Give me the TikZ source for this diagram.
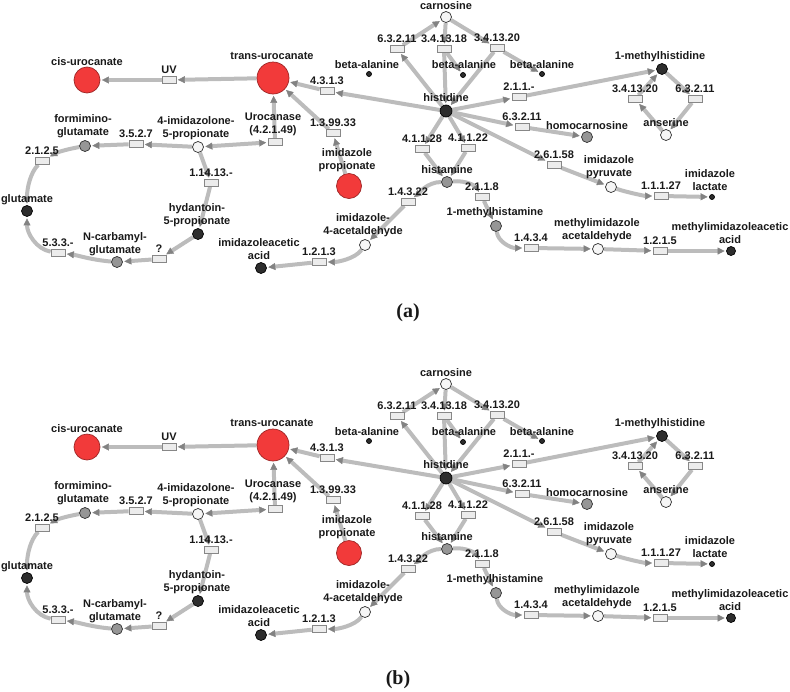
\documentclass[tikz,border=0pt]{standalone}
\usepackage{fontspec}
\setmainfont{Liberation Sans}
\newfontfamily\panelfont{Liberation Serif}
\usetikzlibrary{arrows.meta}
\pgfdeclarelayer{edges}
\pgfsetlayers{edges,main}

\begin{document}
\begin{tikzpicture}[x=1pt,y=-1pt]

  % Define the colours of the pathway map
  \definecolor{metred}{RGB}{242,58,58}
  \definecolor{metdark}{RGB}{45,45,45}
  \definecolor{metgray}{RGB}{150,150,150}
  \definecolor{metwhite}{RGB}{246,246,246}
  \definecolor{boxfill}{RGB}{236,236,236}
  \definecolor{boxline}{RGB}{135,135,135}
  \definecolor{edgegray}{RGB}{188,188,188}
  \definecolor{tipgray}{RGB}{130,130,130}
  \definecolor{txt}{RGB}{25,25,25}

  \tikzset{
    lbl/.style={font=\fontsize{11}{13}\selectfont\bfseries, text=txt, align=center, inner sep=0pt},
    met/.style={circle, inner sep=0pt, line width=0.7pt},
    bigred/.style={met, fill=metred, draw=metred!65!black, minimum size=#1},
    darkmet/.style={met, fill=metdark, draw=black, minimum size=11pt},
    graymet/.style={met, fill=metgray, draw=metdark, minimum size=11pt},
    whitemet/.style={met, fill=metwhite, draw=metdark, minimum size=11pt},
    dotmet/.style={met, fill=metdark, draw=black, minimum size=5pt},
    rxnbox/.style={draw=boxline, fill=boxfill, line width=0.7pt, minimum width=14pt, minimum height=7pt, inner sep=0pt},
    edge/.style={draw=edgegray, line width=4pt},
    >={Triangle[length=7pt, width=7pt, line width=0.4pt, color=tipgray]},
    flow/.style={edge, ->, shorten >=1.5pt},
  }

  \useasboundingbox (0,0) rectangle (790,691);

  % Same map twice, panel (b) below panel (a)
  \foreach \panel/\dy/\lx in {a/0/408, b/367/398} {
    \begin{scope}[shift={(0,\dy)}, name prefix=\panel-]

      % metabolites
      \node[bigred=26pt] (cis) at (87,80) {};
      \node[bigred=32pt] (trans) at (273,78) {};
      \node[bigred=25pt] (improp) at (349,186) {};
      \node[whitemet] (imidazolone) at (198,147) {};
      \node[graymet] (formimino) at (85,146) {};
      \node[darkmet] (glutamate) at (27,211) {};
      \node[graymet] (ncarb) at (117,262) {};
      \node[darkmet] (hydantoin) at (198,234) {};
      \node[darkmet] (imacetic) at (261,268) {};
      \node[whitemet] (imacetald) at (365,245) {};
      \node[whitemet] (carnosine) at (446,17) {};
      \node[dotmet] (bala1) at (369,74) {};
      \node[dotmet] (bala2) at (463,75) {};
      \node[dotmet] (bala3) at (542,74) {};
      \node[darkmet, minimum size=12pt] (histidine) at (446,111) {};
      \node[darkmet] (mhistidine) at (662,69) {};
      \node[whitemet] (anserine) at (666,135) {};
      \node[graymet] (homocarn) at (587,137) {};
      \node[graymet] (histamine) at (447,182) {};
      \node[whitemet] (impyr) at (611,187) {};
      \node[dotmet] (imlact) at (712,197) {};
      \node[graymet] (mhistamine) at (496,226) {};
      \node[whitemet] (meacetald) at (598,249) {};
      \node[darkmet, minimum size=9pt] (meacetic) at (731,251) {};

      % metabolite names
      \node[lbl] (cis-l) at (87,62) {cis-urocanate};
      \node[lbl] (trans-l) at (272,56) {trans-urocanate};
      \node[lbl] (improp-l) at (347,160) {imidazole\\propionate};
      \node[lbl] (imidazolone-l) at (196,128) {4-imidazolone-\\5-propionate};
      \node[lbl] (formimino-l) at (83,126) {formimino-\\glutamate};
      \node[lbl] (glutamate-l) at (27,200) {glutamate};
      \node[lbl] (ncarb-l) at (115,244) {N-carbamyl-\\glutamate};
      \node[lbl] (hydantoin-l) at (197,215) {hydantoin-\\5-propionate};
      \node[lbl] (imacetic-l) at (259,249) {imidazoleacetic\\acid};
      \node[lbl] (imacetald-l) at (363,225) {imidazole-\\4-acetaldehyde};
      \node[lbl] (carnosine-l) at (446,6) {carnosine};
      \node[lbl] (bala1-l) at (367,65) {beta-alanine};
      \node[lbl] (bala2-l) at (464,65) {beta-alanine};
      \node[lbl] (bala3-l) at (542,65) {beta-alanine};
      \node[lbl] (histidine-l) at (446,98) {histidine};
      \node[lbl] (mhistidine-l) at (660,57) {1-methylhistidine};
      \node[lbl] (anserine-l) at (666,123) {anserine};
      \node[lbl] (homocarn-l) at (587,126) {homocarnosine};
      \node[lbl] (histamine-l) at (447,170) {histamine};
      \node[lbl] (impyr-l) at (609,167) {imidazole\\pyruvate};
      \node[lbl] (imlact-l) at (710,180) {imidazole\\lactate};
      \node[lbl] (mhistamine-l) at (495,213) {1-methylhistamine};
      \node[lbl] (meacetald-l) at (597,230) {methylimidazole\\acetaldehyde};
      \node[lbl] (meacetic-l) at (730,233) {methylimidazoleacetic\\acid};

      % reaction boxes with their EC numbers
      \foreach \rx/\x/\y/\ec in {rUV/169/80/UV, r4313/327/91/4.3.1.3,
          r139933/333/133/1.3.99.33, r3527/136/144/3.5.2.7, r2125/42/161/2.1.2.5,
          r533/58/253/5.3.3.-, rq/159/259/?, r11413/211/183/1.14.13.-,
          r1213/319/262/1.2.1.3, r63211a/397/49/6.3.2.11, r341318/444/49/3.4.13.18,
          r341320a/497/48/3.4.13.20, r211/519/97/2.1.1.-, r341320b/635/99/3.4.13.20,
          r63211b/695/99/6.3.2.11, r63211c/522/127/6.3.2.11, r41128/422/149/4.1.1.28,
          r41122/468/148/4.1.1.22, r26158/554/165/2.6.1.58, r11127/661/196/1.1.1.27,
          r14322/408/202/1.4.3.22, r2118/482/197/2.1.1.8, r1434/531/248/1.4.3.4,
          r1215/660/251/1.2.1.5} {
        \node[rxnbox] (\rx) at (\x,\y) {};
        \node[lbl] (\rx-l) at (\x,\y-10) {\ec};
      }
      \node[rxnbox] (rUroc) at (275,142) {};
      \node[lbl] (rUroc-l) at (273,124) {Urocanase\\(4.2.1.49)};

      \begin{pgfonlayer}{edges}
        % urocanate branch
        \draw[flow] (trans) -- (rUV);
        \draw[flow] (rUV) -- (cis);
        \draw[flow] (histidine) -- (r4313);
        \draw[flow] (r4313) -- (trans);
        \draw[flow] (rUroc) -- (trans);
        \draw[edge, <->, shorten <=1.5pt, shorten >=1.5pt] (imidazolone) -- (rUroc);
        \draw[flow] (improp) -- (r139933);
        \draw[flow] (r139933) -- (trans);
        % glutamate loop
        \draw[flow] (imidazolone) -- (r3527);
        \draw[flow] (r3527) -- (formimino);
        \draw[flow] (formimino) .. controls +(-22,4) and +(14,-8) .. (r2125);
        \draw[flow] (r2125) .. controls +(-12,12) and +(0,-22) .. (glutamate);
        \draw[flow] (imidazolone) -- (r11413);
        \draw[flow] (r11413) -- (hydantoin);
        \draw[flow] (hydantoin) -- (rq);
        \draw[flow] (rq) -- (ncarb);
        \draw[flow] (ncarb) .. controls +(-25,-2) and +(18,2) .. (r533);
        \draw[flow] (r533) .. controls +(-22,-4) and +(0,22) .. (glutamate);
        % carnosine and beta-alanine
        \draw[flow] (histidine) -- (r63211a);
        \draw[flow] (r63211a) -- (carnosine);
        \draw[flow] (carnosine) -- (r341318);
        \draw[flow] (r341318) -- (histidine);
        \draw[flow] (r341318) -- (bala2);
        \draw[flow] (carnosine) -- (r341320a);
        \draw[flow] (r341320a) -- (histidine);
        \draw[flow] (r341320a) -- (bala3);
        % methylhistidine, anserine, homocarnosine, imidazole pyruvate
        \draw[flow] (histidine) -- (r211);
        \draw[flow] (r211) -- (mhistidine);
        \draw[flow] (anserine) -- (r341320b);
        \draw[flow] (r341320b) -- (mhistidine);
        \draw[flow] (mhistidine) -- (r63211b);
        \draw[flow] (r63211b) -- (anserine);
        \draw[flow] (histidine) -- (r63211c);
        \draw[flow] (r63211c) -- (homocarn);
        \draw[flow] (histidine) -- (r26158);
        \draw[flow] (r26158) -- (impyr);
        \draw[flow] (impyr) .. controls +(18,6) and +(-15,0) .. (r11127);
        \draw[flow] (r11127) -- (imlact);
        % histamine
        \draw[flow] (histidine) -- (r41128);
        \draw[flow] (r41128) -- (histamine);
        \draw[flow] (histidine) -- (r41122);
        \draw[flow] (r41122) -- (histamine);
        \draw[flow] (histamine) .. controls +(-20,0) and +(10,-8) .. (r14322);
        \draw[flow] (r14322) -- (imacetald);
        \draw[flow] (imacetald) .. controls +(-10,14) and +(18,0) .. (r1213);
        \draw[flow] (r1213) -- (imacetic);
        \draw[flow] (histamine) .. controls +(20,-2) and +(-6,-10) .. (r2118);
        \draw[flow] (r2118) -- (mhistamine);
        \draw[flow] (mhistamine) .. controls +(2,16) and +(-20,0) .. (r1434);
        \draw[flow] (r1434) -- (meacetald);
        \draw[flow] (meacetald) -- (r1215);
        \draw[flow] (r1215) -- (meacetic);
      \end{pgfonlayer}
    \end{scope}

    \node[font=\panelfont\bfseries\fontsize{20}{22}\selectfont, text=txt] (panel-\panel) at (\lx,313+\dy) {(\panel)};
  }
\end{tikzpicture}
\end{document}
